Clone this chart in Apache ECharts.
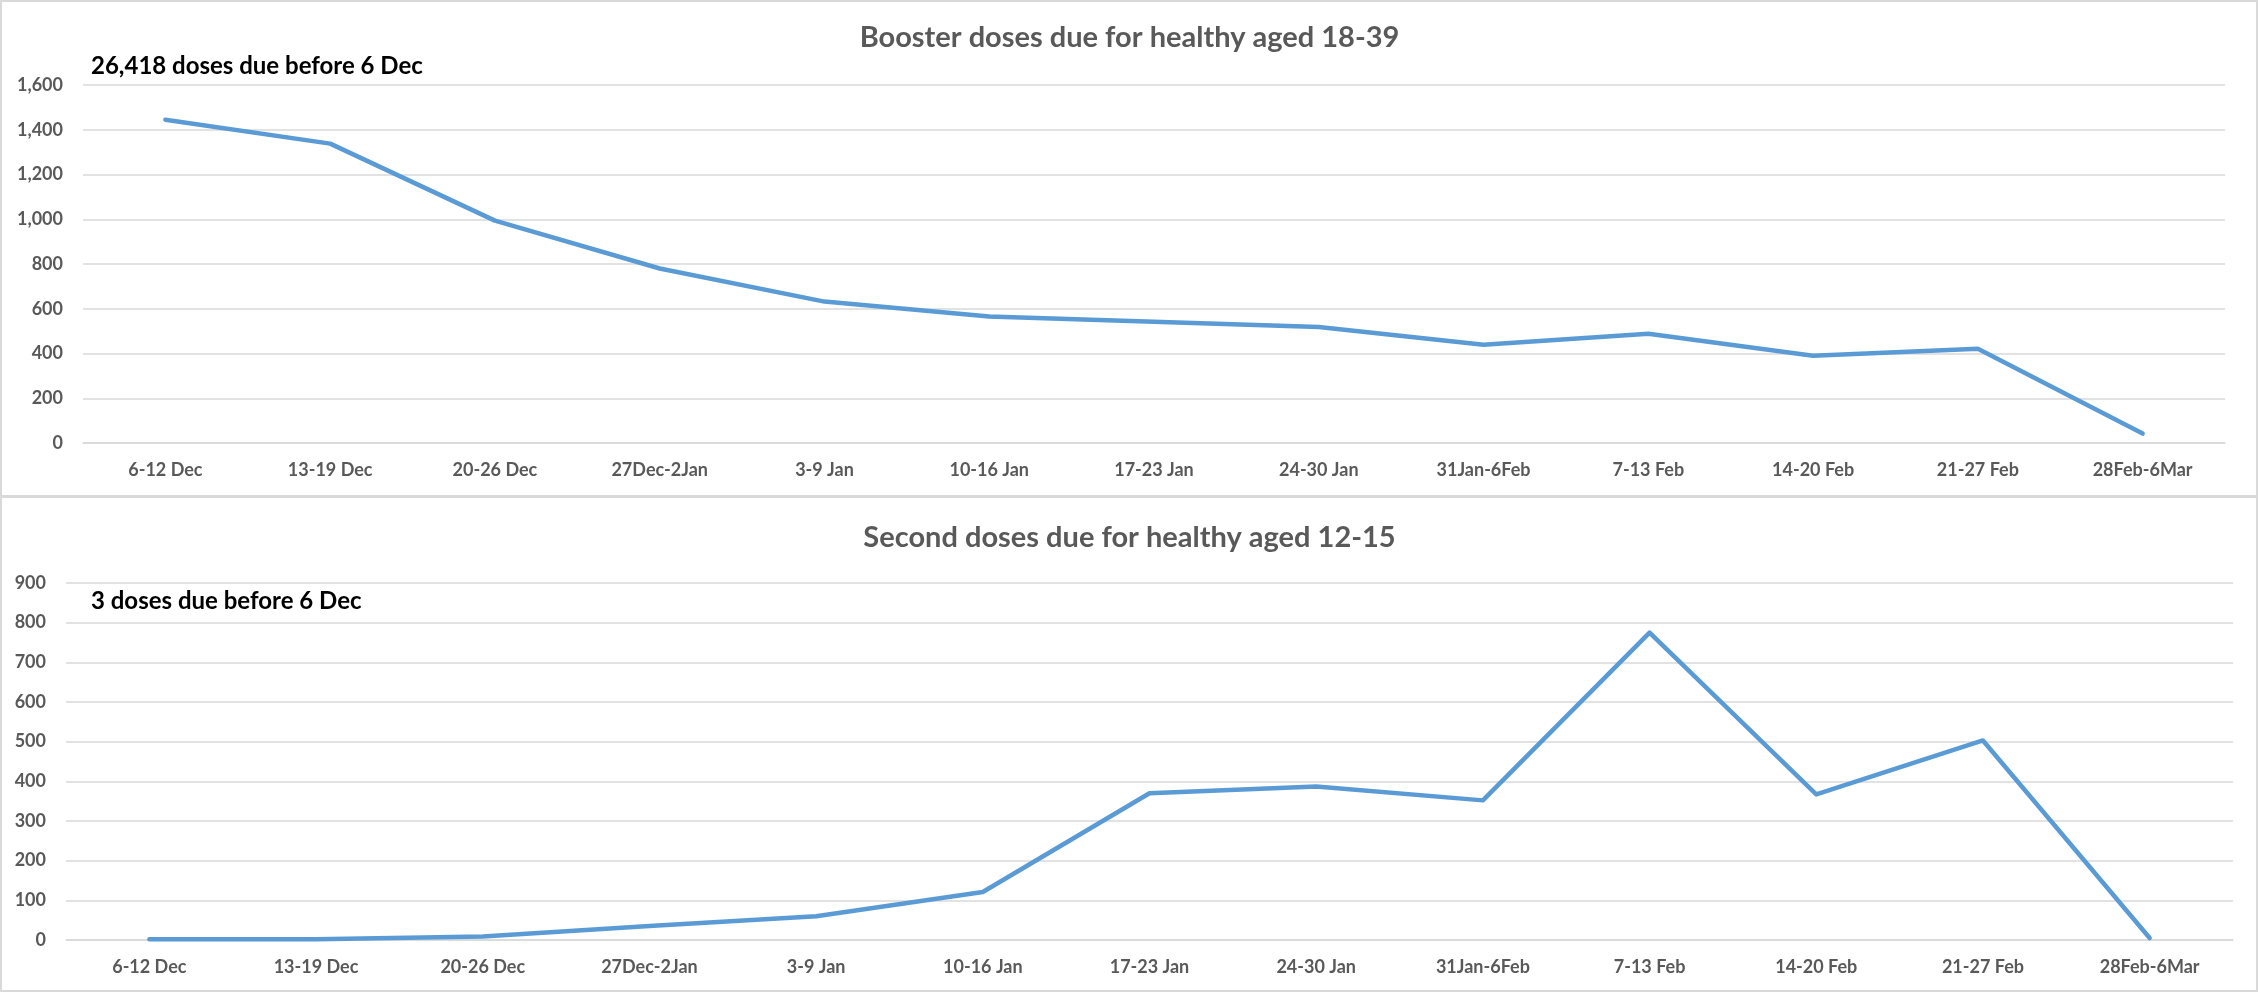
<!DOCTYPE html>
<html>
<head>
<meta charset="utf-8">
<script src="https://cdn.jsdelivr.net/npm/echarts@6/dist/echarts.min.js"></script>
<style>
  html, body { margin: 0; padding: 0; background: #fff; }
  #chart { width: 2259px; height: 994px; }
</style>
</head>
<body>
<div id="chart"></div>
<script>
var weeks = ['6-12 Dec', '13-19 Dec', '20-26 Dec', '27Dec-2Jan', '3-9 Jan', '10-16 Jan', '17-23 Jan',
  '24-30 Jan', '31Jan-6Feb', '7-13 Feb', '14-20 Feb', '21-27 Feb', '28Feb-6Mar'];
var boosterDue = [1445, 1338, 994, 780, 632, 565, 542, 518, 439, 488, 390, 421, 42];
var secondDue = [2, 2, 9, 35, 60, 121, 370, 387, 352, 775, 367, 503, 5];

var titles = ['Booster doses due for healthy aged 18-39', 'Second doses due for healthy aged 12-15'];
var notes = ['26,418 doses due before 6 Dec', '3 doses due before 6 Dec'];

var font = 'Lato, "Open Sans", sans-serif';
var grey = '#595959';
var gridGrey = '#D9D9D9';
var blue = '#5B9BD5';

var chart = echarts.init(document.getElementById('chart'));

function yAxisFor(idx, max, step) {
  return {
    type: 'value',
    gridIndex: idx,
    min: 0,
    max: max,
    interval: step,
    axisLine: { show: false },
    axisTick: { show: false },
    axisLabel: {
      margin: 20,
      color: grey,
      fontFamily: font,
      fontWeight: 'bold',
      fontSize: 18,
      formatter: function (v) { return v.toLocaleString('en-US'); }
    },
    splitLine: { lineStyle: { color: gridGrey, width: 1.5 } }
  };
}

function xAxisFor(idx) {
  return {
    type: 'category',
    gridIndex: idx,
    data: weeks,
    boundaryGap: true,
    axisLine: { show: true, lineStyle: { color: gridGrey, width: 1.5 } },
    axisTick: { show: false },
    axisLabel: {
      margin: 18,
      color: grey,
      fontFamily: font,
      fontWeight: 'bold',
      fontSize: 18,
      interval: 0
    }
  };
}

function lineSeries(idx, values) {
  return {
    type: 'line',
    xAxisIndex: idx,
    yAxisIndex: idx,
    data: values,
    symbol: 'none',
    animation: false,
    lineStyle: { color: blue, width: 4.5, cap: 'round', join: 'round' }
  };
}

var option = {
  backgroundColor: '#fff',
  animation: false,
  title: [
    { text: titles[0], left: 'center', top: 23, padding: 0,
      textStyle: { color: grey, fontFamily: font, fontWeight: 'bold', fontSize: 29 } },
    { text: notes[0], left: 91, top: 54, padding: 0,
      textStyle: { color: '#000', fontFamily: font, fontWeight: 'bold', fontSize: 24 } },
    { text: titles[1], left: 'center', top: 523, padding: 0,
      textStyle: { color: grey, fontFamily: font, fontWeight: 'bold', fontSize: 29 } },
    { text: notes[1], left: 91, top: 589, padding: 0,
      textStyle: { color: '#000', fontFamily: font, fontWeight: 'bold', fontSize: 24 } }
  ],
  grid: [
    { left: 83, right: 34, top: 85, height: 358 },
    { left: 66, right: 26, top: 583, height: 357 }
  ],
  xAxis: [xAxisFor(0), xAxisFor(1)],
  yAxis: [yAxisFor(0, 1600, 200), yAxisFor(1, 900, 100)],
  series: [lineSeries(0, boosterDue), lineSeries(1, secondDue)],
  graphic: [
    { type: 'rect', shape: { x: 1, y: 1, width: 2256, height: 495 },
      style: { fill: null, stroke: gridGrey, lineWidth: 2 }, silent: true },
    { type: 'rect', shape: { x: 1, y: 497, width: 2256, height: 494 },
      style: { fill: null, stroke: gridGrey, lineWidth: 2 }, silent: true }
  ]
};

chart.setOption(option);
</script>
</body>
</html>
